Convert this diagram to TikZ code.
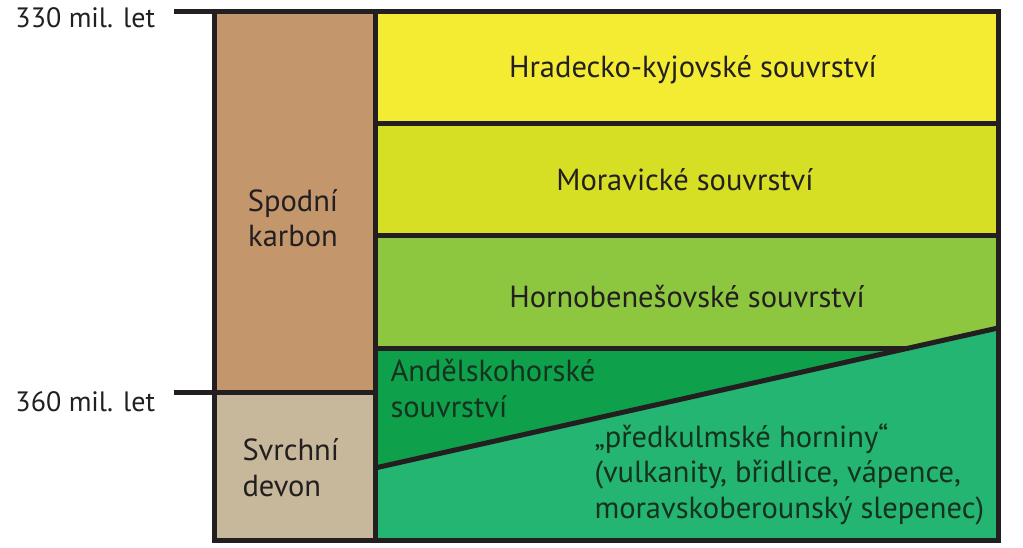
\documentclass[tikz,border=0pt]{standalone}
\usepackage{fontspec}
\setmainfont{PT Sans}
\definecolor{linecol}{RGB}{35,31,32}
\definecolor{txtcol}{RGB}{35,31,32}
\definecolor{txtgreen}{RGB}{20,50,30}
\definecolor{karboncol}{RGB}{195,150,108}
\definecolor{devoncol}{RGB}{199,183,155}
\definecolor{hradeccol}{RGB}{244,235,51}
\definecolor{moravcol}{RGB}{214,223,36}
\definecolor{hornobcol}{RGB}{141,198,63}
\definecolor{andelcol}{RGB}{14,160,74}
\definecolor{predcol}{RGB}{36,181,115}
\tikzset{lbl/.style={text=txtcol,inner sep=0pt,font=\fontsize{30.5}{35.5}\selectfont},
         ticklbl/.style={lbl,font=\fontsize{28}{34}\selectfont}}

\begin{document}
\begin{tikzpicture}[x=1pt,y=-1pt,line width=5pt,line join=miter]
            \useasboundingbox (0,0) rectangle (1023,548);
            \def\xa{214}
            \def\xb{375}
            \def\xc{998}
            \coordinate (dl) at (\xb,468);
            \coordinate (dr) at (\xc,328);
            \coordinate (cut) at (intersection of \xb,348--\xc,348 and dl--dr);
            % fills
            \fill[karboncol] (\xa,12) rectangle (\xb,392);
            \fill[devoncol] (\xa,392) rectangle (\xb,540);
            \fill[hradeccol] (\xb,12) rectangle (\xc,124);
            \fill[moravcol] (\xb,124) rectangle (\xc,236);
            \fill[hornobcol] (\xb,236) -- (\xc,236) -- (dr) -- (cut) -- (\xb,348) -- cycle;
            \fill[andelcol] (\xb,348) -- (cut) -- (dl) -- cycle;
            \fill[predcol] (dl) -- (dr) -- (\xc,540) -- (\xb,540) -- cycle;
            % lines
            \draw[linecol] (174,12) -- (\xc,12) -- (\xc,540) -- (\xa,540) -- (\xa,12);
            \draw[linecol] (174,392) -- (\xb,392);
            \draw[linecol] (\xb,12) -- (\xb,540);
            \draw[linecol] (\xb,124) -- (\xc,124) (\xb,236) -- (\xc,236);
            \draw[linecol] (\xb,348) -- (cut);
            \draw[linecol] (dl) -- (dr);
            % texts (base = last line)
            \node[ticklbl,anchor=base west] (t330) at (13,28) {330 mil. let};
            \node[ticklbl,anchor=base west] (t360) at (13,411) {360 mil. let};
            \node[lbl,anchor=base] (hradec) at (693,78) {Hradecko-kyjovské souvrství};
            \node[lbl,anchor=base] (morav) at (685,191) {Moravické souvrství};
            \node[lbl,anchor=base] (hornob) at (687,307) {Hornobenešovské souvrství};
            \node[lbl,anchor=base,align=center] (karbon) at (293,247) {Spodní\\karbon};
            \node[lbl,anchor=base west,align=left] (devon) at (240,496) {Svrchní\\devon};
            \node[lbl,anchor=base west,align=left,text=txtgreen] (andel) at (388,417) {Andělskohorské\\souvrství};
            \node[lbl,anchor=base west,align=left,text=txtgreen] (pred) at (592,518) {„předkulmské horniny“\\(vulkanity, břidlice, vápence,\\moravskoberounský slepenec)};
        \end{tikzpicture}
\end{document}
